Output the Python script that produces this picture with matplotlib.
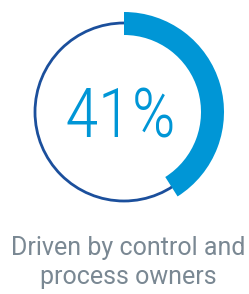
import matplotlib
matplotlib.use("Agg")
import matplotlib.pyplot as plt
from matplotlib.patches import Wedge, Circle

value = 41
label_value = "41%"
caption_lines = ["Driven by control and", "process owners"]

W, H = 249, 294
fig = plt.figure(figsize=(W / 100, H / 100), dpi=100)
ax = fig.add_axes([0, 0, 1, 1])
ax.set_xlim(0, W)
ax.set_ylim(H, 0)
ax.set_aspect("equal")
ax.axis("off")

cx, cy = 124, 112
ring = Circle((cx, cy), 89, fill=False, edgecolor="#1b4f9c", linewidth=2.0)
ax.add_patch(ring)
theta_start = -90
theta_end = -90 + value / 100 * 360
arc = Wedge((cx, cy), 100, theta_start, theta_end, width=23, facecolor="#0096d6", edgecolor="none")
ax.add_patch(arc)

ax.text(120, 138, label_value, ha="center", va="baseline", fontsize=50,
        family=["Roboto Condensed", "Roboto", "DejaVu Sans"], fontweight=100,
        fontstretch="condensed", color="#0096d6")
for i, line in enumerate(caption_lines):
    ax.text(128, 255 + 29 * i, line, ha="center", va="baseline", fontsize=18,
            family=["Roboto", "DejaVu Sans"], color="#7a8893")

fig.savefig("out.png", dpi=100)
